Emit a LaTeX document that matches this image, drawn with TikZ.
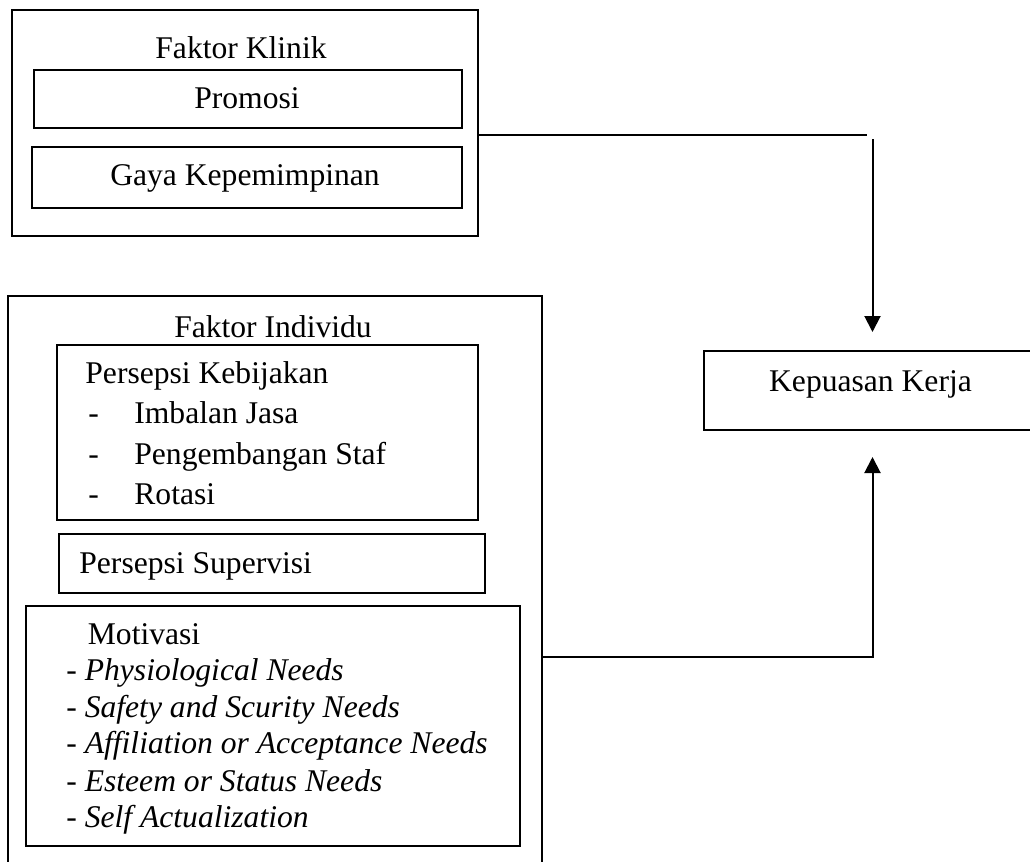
\documentclass[tikz,border=0pt]{standalone}
\usepackage{fontspec}
\setmainfont{Liberation Serif}
\usepackage{tikz}
\usetikzlibrary{arrows.meta}

\begin{document}
\begin{tikzpicture}[x=0.5pt, y=-0.5pt, font=\fontsize{15.8}{19}\selectfont,
		box/.style={draw, line width=1pt, rectangle, inner sep=0pt, anchor=north west},
		txt/.style={inner sep=0pt, anchor=base},
		item/.style={inner sep=0pt, anchor=base west},
		conn/.style={line width=1pt},
		arr/.style={line width=1pt, -{Triangle[width=8pt,length=8pt]}}]
		% Page frame
		\useasboundingbox (0,0) rectangle (1030,862);
		\clip (0,0) rectangle (1030,862);
		% Faktor Klinik
		\node[box, minimum width=233pt, minimum height=113pt] (klinik) at (11,9) {};
		\node[txt] (klinikT) at (241,59) {Faktor Klinik};
		\node[box, minimum width=214pt, minimum height=29pt] (promosi) at (33,69) {};
		\node[txt] (promosiT) at (247,108) {Promosi};
		\node[box, minimum width=215pt, minimum height=30.5pt] (gaya) at (31,146) {};
		\node[txt] (gayaT) at (245,185) {Gaya Kepemimpinan};
		% Faktor Individu
		\node[box, minimum width=267pt, minimum height=295pt] (individu) at (7,295) {};
		\node[txt] (individuT) at (273,337) {Faktor Individu};
		\node[box, minimum width=210.5pt, minimum height=87.5pt] (kebijakan) at (56,344) {};
		\node[item] (kebijakanT) at (85,383) {Persepsi Kebijakan};
		\node[item] (imbalan) at (88,423) {\makebox[23pt][l]{-}Imbalan Jasa};
		\node[item] (staf) at (88,464) {\makebox[23pt][l]{-}Pengembangan Staf};
		\node[item] (rotasi) at (88,504) {\makebox[23pt][l]{-}Rotasi};
		\node[box, minimum width=213pt, minimum height=29.5pt] (supervisi) at (58,533) {};
		\node[item] (supervisiT) at (79,573) {Persepsi Supervisi};
		\node[box, minimum width=247pt, minimum height=120pt] (motivasi) at (25,605) {};
		\node[item] (motivasiT) at (87.5,644) {Motivasi};
		\node[item] (need1) at (66,680) {- \textit{Physiological Needs}};
		\node[item] (need2) at (66,717) {- \textit{Safety and Scurity Needs}};
		\node[item] (need3) at (66,753) {- \textit{Affiliation or Acceptance Needs}};
		\node[item] (need4) at (66,791) {- \textit{Esteem or Status Needs}};
		\node[item] (need5) at (66,827) {- \textit{Self Actualization}};
		% Kepuasan Kerja
		\node[box, minimum width=168.5pt, minimum height=39.5pt] (kepuasan) at (703,350) {};
		\node[txt] (kepuasanT) at (870.5,391) {Kepuasan Kerja};
		% Connectors
		\coordinate (kout) at (klinik.east |- 0,135);
		\coordinate (kbend) at (kout -| kepuasan.north);
		\coordinate (iout) at (individu.east |- 0,657);
		\draw[conn, shorten >=3pt] (kout) -- (kbend);
		\draw[arr, shorten >=9pt] ([yshift=-2pt]kbend) -- (kepuasan.north);
		\draw[arr, shorten >=13pt] (iout) -| (kepuasan.south);
	\end{tikzpicture}
\end{document}
